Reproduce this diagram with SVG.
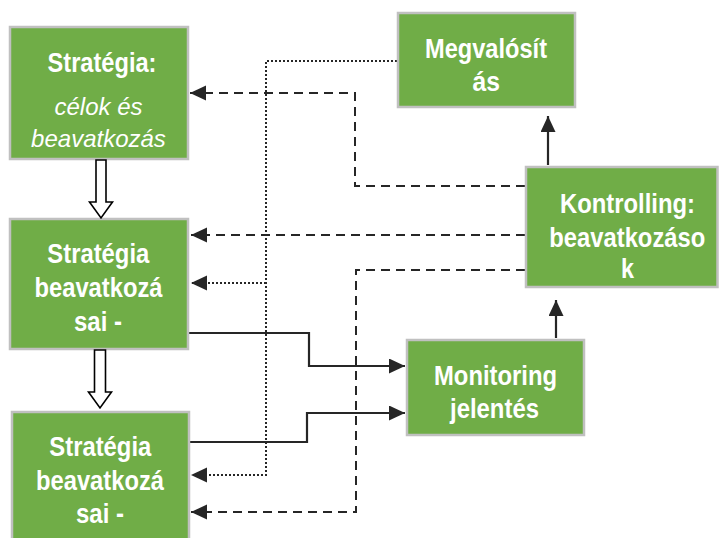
<svg xmlns="http://www.w3.org/2000/svg" width="719" height="538" viewBox="0 0 719 538">
<style>
.box{fill:#70ad47;stroke:#c0c0c0;stroke-width:2.5}
.t{font-family:"Liberation Sans",Arial,sans-serif;font-weight:bold;font-size:28px;fill:#ffffff}
.ti{font-family:"Liberation Sans",Arial,sans-serif;font-style:italic;font-size:24px;fill:#ffffff}
.dash{fill:none;stroke:#262626;stroke-width:2;stroke-dasharray:9,6}
.dot{fill:none;stroke:#262626;stroke-width:2;stroke-dasharray:2,2}
.solid{fill:none;stroke:#262626;stroke-width:2.2}
.block{fill:#ffffff;stroke:#000000;stroke-width:1.6}
</style>
<defs>
<marker id="ah" markerUnits="userSpaceOnUse" markerWidth="17" markerHeight="16" refX="16" refY="7.5" orient="auto">
<path d="M0,0 L16,7.5 L0,15 z" fill="#262626" stroke="none"/>
</marker>
</defs>
<rect width="719" height="538" fill="#ffffff"/>
<g id="connectors">
<path class="dash" d="M525,186 H355 V93 H190" marker-end="url(#ah)"/>
<path class="dash" d="M525,235 H191" marker-end="url(#ah)"/>
<path class="dash" d="M525,270 H356 V512 H191" marker-end="url(#ah)"/>
<path class="dot" d="M397,61 H266 V475 H191" marker-end="url(#ah)"/>
<path class="dot" d="M266,283 H191" marker-end="url(#ah)"/>
<path class="solid" d="M189,333 H309 V366 H405" marker-end="url(#ah)"/>
<path class="solid" d="M190,442 H307 V413 H405" marker-end="url(#ah)"/>
<path class="solid" d="M556,338 V300" marker-end="url(#ah)"/>
<path class="solid" d="M548,165 V116" marker-end="url(#ah)"/>
</g>
<g id="strategia">
<rect class="box" x="10" y="27" width="178" height="132"/>
<text class="t" x="47.5" y="72" textLength="109" lengthAdjust="spacingAndGlyphs">Stratégia:</text>
<text class="ti" x="98.5" y="115" text-anchor="middle">célok és</text>
<text class="ti" x="98.5" y="147" text-anchor="middle">beavatkozás</text>
</g>
<g id="beavatkozasai1">
<rect class="box" x="10" y="219" width="178" height="130"/>
<text class="t" x="47.3" y="263" textLength="102" lengthAdjust="spacingAndGlyphs">Stratégia</text>
<text class="t" x="34.5" y="297" textLength="128" lengthAdjust="spacingAndGlyphs">beavatkozá</text>
<text class="t" x="74" y="331" textLength="48" lengthAdjust="spacingAndGlyphs">sai -</text>
</g>
<g id="beavatkozasai2">
<rect class="box" x="12" y="412" width="177" height="140"/>
<text class="t" x="49.3" y="456" textLength="102" lengthAdjust="spacingAndGlyphs">Stratégia</text>
<text class="t" x="36" y="490" textLength="128" lengthAdjust="spacingAndGlyphs">beavatkozá</text>
<text class="t" x="76" y="523" textLength="48" lengthAdjust="spacingAndGlyphs">sai -</text>
</g>
<g id="megvalositas">
<rect class="box" x="398" y="13" width="177" height="94"/>
<text class="t" x="425" y="58" textLength="122" lengthAdjust="spacingAndGlyphs">Megvalósít</text>
<text class="t" x="472.5" y="91" textLength="27.5" lengthAdjust="spacingAndGlyphs">ás</text>
</g>
<g id="kontrolling">
<rect class="box" x="526" y="167" width="191.5" height="120"/>
<text class="t" x="560" y="213" textLength="135" lengthAdjust="spacingAndGlyphs">Kontrolling:</text>
<text class="t" transform="translate(549.3,247) scale(0.85,1)" x="0" y="0" textLength="183.5" lengthAdjust="spacingAndGlyphs">beavatkozáso</text>
<text class="t" x="621" y="278" textLength="13" lengthAdjust="spacingAndGlyphs">k</text>
</g>
<g id="monitoring">
<rect class="box" x="407" y="340" width="177" height="95"/>
<text class="t" x="434" y="385" textLength="123" lengthAdjust="spacingAndGlyphs">Monitoring</text>
<text class="t" x="450" y="418" textLength="89" lengthAdjust="spacingAndGlyphs">jelentés</text>
</g>
<g id="flow-arrows">
<polygon class="block" points="96,160 106,160 106,202 112.5,202 101,218 89.5,202 96,202"/>
<polygon class="block" points="94.5,350 105.5,350 105.5,392 111.5,392 100,408 88.5,392 94.5,392"/>
</g>
</svg>
